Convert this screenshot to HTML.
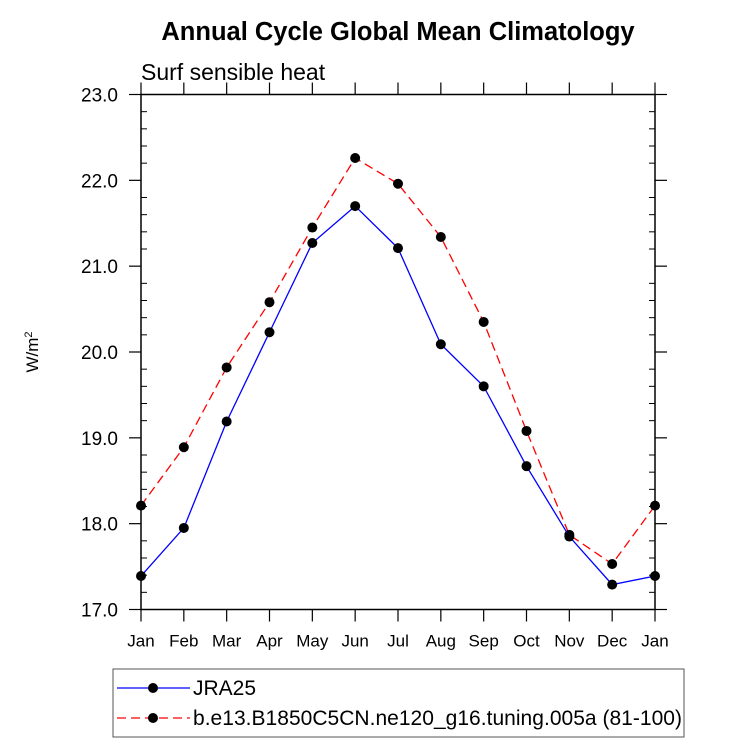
<!DOCTYPE html>
<html><head><meta charset="utf-8"><style>
body{margin:0;background:#fff;width:733px;height:744px;overflow:hidden}
svg{font-family:"Liberation Sans",sans-serif}
</style></head><body>
<svg id="chart" width="733" height="744" xmlns="http://www.w3.org/2000/svg">
<text x="398" y="40" text-anchor="middle" font-size="25.5" font-weight="bold">Annual Cycle Global Mean Climatology</text>
<text x="141" y="80" font-size="23">Surf sensible heat</text>
<text transform="translate(38,352) rotate(-90)" text-anchor="middle" font-size="17">W/m<tspan dy="-6" font-size="11">2</tspan></text>
<g id="axes"></g>
<g id="series"></g>
<g>
<rect x="113" y="669" width="571" height="68" fill="none" stroke="#555" stroke-width="1"/>
<g>
<line x1="117" y1="688" x2="190" y2="688" stroke="#00f" stroke-width="1.2"/>
<circle cx="153" cy="688" r="5" fill="#000"/>
<text x="193" y="695" font-size="21">JRA25</text></g>
<g>
<line x1="117" y1="718" x2="190" y2="718" stroke="#f00" stroke-width="1.2" stroke-dasharray="9,5"/>
<circle cx="153" cy="718" r="5" fill="#000"/>
<text x="193" y="725" font-size="21" textLength="489">b.e13.B1850C5CN.ne120_g16.tuning.005a (81-100)</text></g>
</g>
</svg>
<script>
const months=["Jan","Feb","Mar","Apr","May","Jun","Jul","Aug","Sep","Oct","Nov","Dec","Jan"];
const jra25=[17.39,17.95,19.19,20.23,21.27,21.70,21.21,20.09,19.60,18.67,17.85,17.29,17.39];
const model=[18.21,18.89,19.82,20.58,21.45,22.26,21.96,21.34,20.35,19.08,17.87,17.53,18.21];
const yTicks=["17.0","18.0","19.0","20.0","21.0","22.0","23.0"];
const X0=141,X1=655,Y0=609.5,Y1=94.5,ymin=17,ymax=23;
const xs=i=>X0+(X1-X0)*i/(months.length-1);
const ys=v=>Y0-(v-ymin)/(ymax-ymin)*(Y0-Y1);
const NS="http://www.w3.org/2000/svg";
function mk(t,a,p){const e=document.createElementNS(NS,t);for(const k in a)e.setAttribute(k,a[k]);p.appendChild(e);return e;}
const ax=document.getElementById('axes'),se=document.getElementById('series');
const fr=mk('rect',{x:X0,y:Y1,width:X1-X0,height:Y0-Y1,fill:'none',stroke:'#000','stroke-width':1.5},ax);


months.forEach((m,i)=>{const x=xs(i);
mk('line',{x1:x,y1:Y0,x2:x,y2:Y0+12,stroke:'#000','stroke-width':1.2},ax);
mk('line',{x1:x,y1:Y1,x2:x,y2:Y1-12,stroke:'#000','stroke-width':1.2},ax);
const t=mk('text',{x:x,y:Y0+37,'text-anchor':'middle','font-size':17},ax);t.textContent=m;

});
yTicks.forEach(s=>{const v=parseFloat(s),y=ys(v);
mk('line',{x1:X0-12,y1:y,x2:X0,y2:y,stroke:'#000','stroke-width':1.2},ax);
mk('line',{x1:X1,y1:y,x2:X1+12,y2:y,stroke:'#000','stroke-width':1.2},ax);
const t=mk('text',{x:X0-23,y:y+7,'text-anchor':'end','font-size':19},ax);t.textContent=s;


if(v<ymax)for(let k=1;k<5;k++){const yy=ys(v+k*0.2);
mk('line',{x1:X0,y1:yy,x2:X0+6,y2:yy,stroke:'#000','stroke-width':1},ax);
mk('line',{x1:X1-6,y1:yy,x2:X1,y2:yy,stroke:'#000','stroke-width':1},ax);}});
function series(d,c,dash,name){
const p=mk('polyline',{points:d.map((v,i)=>xs(i)+','+ys(v)).join(' '),fill:'none',stroke:c,'stroke-width':1.3,'stroke-dasharray':dash},se);


d.forEach((v,i)=>{const c2=mk('circle',{cx:xs(i),cy:ys(v),r:5,fill:'#000'},se);

});}
series(model,'#f00','9,5','model');
series(jra25,'#00f','none','jra25');
</script>
</body></html>
